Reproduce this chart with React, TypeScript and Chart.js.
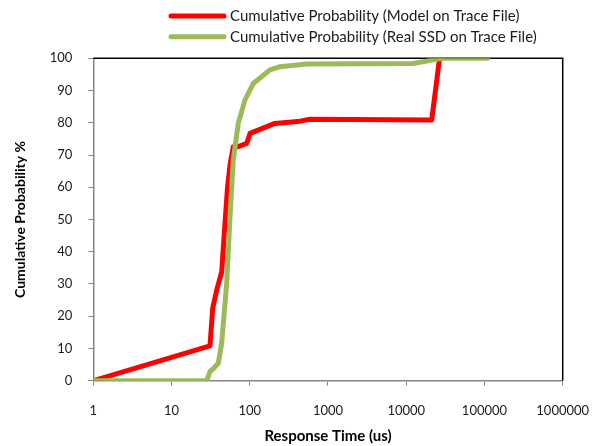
import React, { useEffect, useRef } from "react";
import { Chart, registerables } from "chart.js";

Chart.register(...registerables);

// Data
const seriesLabels = [
  "Cumulative Probability (Model on Trace File)",
  "Cumulative Probability (Real SSD on Trace File)",
];
const seriesColors = ["#FF0000", "#9BBB59"];

const modelX = [1, 31, 33.6, 37.8, 43.8, 47, 52, 56, 61.6, 71.3, 91.4, 100.7, 210, 439, 589, 21200, 26500, 27800];
const modelY = [0, 10.8, 22.5, 28.1, 33.8, 45, 60, 67, 72.6, 72.6, 73.6, 76.7, 79.8, 80.5, 81.1, 80.9, 99.5, 100];

const ssdX = [1, 28.2, 31, 35, 39.6, 43.8, 50.7, 55.9, 61.6, 71.3, 86.9, 111, 181, 244, 535, 12300, 22200, 29800, 110000];
const ssdY = [0, 0, 2.8, 4, 5.4, 11.7, 30.3, 50.9, 68.5, 79.8, 87.1, 92.2, 96.4, 97.4, 98.2, 98.4, 99.5, 100, 100];

const xTickValues = [1, 10, 100, 1000, 10000, 100000, 1000000];
const yTickValues = [0, 10, 20, 30, 40, 50, 60, 70, 80, 90, 100];

const xTitle = "Response Time (us)";
const yTitle = "Cumulative Probability %";

const FONT = "Lato";

export default function App() {
  const ref = useRef<HTMLCanvasElement>(null);

  useEffect(() => {
    if (!ref.current) return;
    const toPts = (xs: number[], ys: number[]) => xs.map((x, i) => ({ x, y: ys[i] }));

    const framePlugin = {
      id: "frame",
      beforeDatasetsDraw(chart: any) {
        const { ctx, chartArea: a } = chart;
        ctx.save();
        ctx.strokeStyle = "#000";
        ctx.lineWidth = 1.5;
        ctx.beginPath();
        ctx.moveTo(a.left, a.top);
        ctx.lineTo(a.right, a.top);
        ctx.lineTo(a.right, a.bottom);
        ctx.stroke();
        ctx.restore();
      },
    };

    const legendPlugin = {
      id: "customLegend",
      afterDraw(chart: any) {
        const { ctx } = chart;
        ctx.save();
        chart.data.datasets.forEach((ds: any, i: number) => {
          const y = 8 + i * 20.7;
          ctx.strokeStyle = ds.borderColor;
          ctx.lineWidth = 5;
          ctx.lineCap = "round";
          ctx.beginPath();
          ctx.moveTo(163, y);
          ctx.lineTo(216, y);
          ctx.stroke();
          ctx.fillStyle = "#1a1a1a";
          ctx.font = `15px ${FONT}`;
          ctx.textBaseline = "middle";
          ctx.textAlign = "left";
          ctx.fillText(ds.label, 222, y);
        });
        ctx.restore();
      },
    };

    const chart = new Chart(ref.current, {
      type: "line",
      data: {
        datasets: [
          {
            label: seriesLabels[0],
            data: toPts(modelX, modelY),
            borderColor: seriesColors[0],
            backgroundColor: seriesColors[0],
            borderWidth: 5,
            pointRadius: 0,
            tension: 0,
            borderJoinStyle: "round",
            borderCapStyle: "round",
            order: 1,
          },
          {
            label: seriesLabels[1],
            data: toPts(ssdX, ssdY),
            borderColor: seriesColors[1],
            backgroundColor: seriesColors[1],
            borderWidth: 5,
            pointRadius: 0,
            tension: 0,
            borderJoinStyle: "round",
            borderCapStyle: "round",
            order: 0,
          },
        ],
      },
      options: {
        animation: false,
        responsive: true,
        maintainAspectRatio: false,
        layout: { padding: { top: 50.3, right: 28.3, left: 0, bottom: 0 } },
        plugins: {
          legend: { display: false },
          tooltip: { enabled: false },
        },
        scales: {
          x: {
            type: "logarithmic",
            min: 1,
            max: 1000000,
            afterBuildTicks: (s: any) => {
              s.ticks = xTickValues.map((v) => ({ value: v }));
            },
            afterFit: (s: any) => {
              s.height = 65.3;
              s.paddingLeft = 0;
              s.paddingRight = 0;
            },
            ticks: {
              autoSkip: false,
              maxRotation: 0,
              minRotation: 0,
              padding: 17,
              color: "#1a1a1a",
              font: { family: FONT, size: 13 },
              callback: (v: any) => String(v),
            },
            grid: {
              display: true,
              drawOnChartArea: false,
              drawTicks: true,
              tickLength: 5,
              color: "#868686",
            },
            border: { display: true, color: "#868686", width: 1.5 },
            title: {
              display: true,
              text: xTitle,
              color: "#000",
              font: { family: FONT, size: 15, weight: "bold" },
              padding: { top: 0, bottom: 1.2 },
            },
          },
          y: {
            type: "linear",
            min: 0,
            max: 100,
            afterBuildTicks: (s: any) => {
              s.ticks = yTickValues.map((v) => ({ value: v }));
            },
            afterFit: (s: any) => {
              s.width = 85.3;
              s.paddingTop = 0;
              s.paddingBottom = 0;
            },
            ticks: {
              padding: 16,
              color: "#1a1a1a",
              font: { family: FONT, size: 13 },
            },
            grid: {
              display: true,
              drawOnChartArea: false,
              drawTicks: true,
              tickLength: 5,
              color: "#868686",
            },
            border: { display: true, color: "#868686", width: 1.5 },
            title: {
              display: true,
              text: yTitle,
              color: "#000",
              font: { family: FONT, size: 14, weight: "bold" },
              padding: { top: 4, bottom: 0 },
            },
          },
        },
      },
      plugins: [framePlugin, legendPlugin],
    });

    return () => chart.destroy();
  }, []);

  return (
    <div style={{ width: 583, height: 438, position: "relative" }}>
      <canvas ref={ref} />
    </div>
  );
}
